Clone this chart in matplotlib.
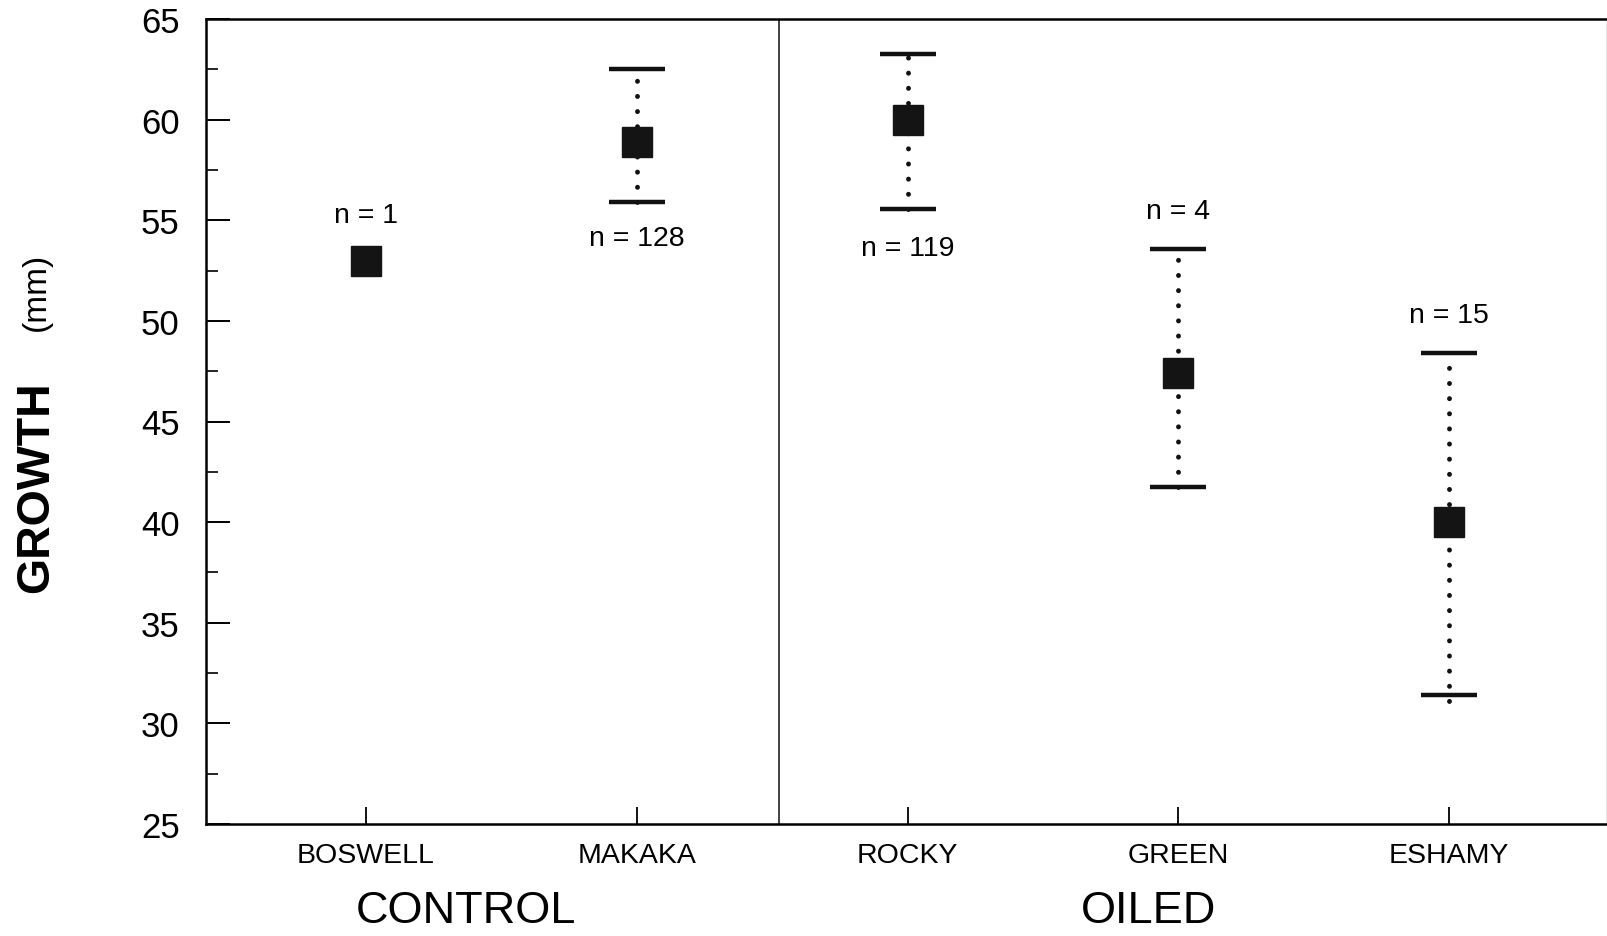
import matplotlib
matplotlib.use("Agg")
import matplotlib.pyplot as plt
from matplotlib.ticker import MultipleLocator
import matplotlib.transforms as mtransforms

plt.rcParams['font.family'] = ['Liberation Sans', 'DejaVu Sans']
plt.rcParams['lines.scale_dashes'] = False

# data
sites = ['BOSWELL', 'MAKAKA', 'ROCKY', 'GREEN', 'ESHAMY']
means = [53.0, 58.9, 60.0, 47.4, 40.0]
upper = [53.0, 62.5, 63.25, 53.55, 48.4]
lower = [53.0, 55.9, 55.55, 41.75, 31.4]
n_obs = [1, 128, 119, 4, 15]
n_label_y = [55.25, 54.1, 53.6, 55.45, 50.3]
groups = ['CONTROL', 'OILED']

x = list(range(1, len(sites) + 1))

fig = plt.figure(figsize=(16.08, 9.37), dpi=100)
ax = fig.add_axes([206 / 1608, 112 / 937, 1401 / 1608, 805 / 937])

# error bars (skip the single-observation site)
for xi, m, hi, lo, n in zip(x, means, upper, lower, n_obs):
    if n < 2:
        continue
    ax.vlines(xi, lo - 0.3 if xi == 5 else lo, hi, colors='#111111', linewidth=3.5,
              linestyles=(0, (0.1, 10.8)), capstyle='round', zorder=2)
    ax.plot([xi, xi], [lo, hi], linestyle='none', marker='_', markersize=40,
            markeredgewidth=3.2, color='#111111', zorder=3)

ax.plot(x, means, linestyle='none', marker='s', markersize=21.5,
        color='#141414', zorder=4)

for xi, yy, n in zip(x, n_label_y, n_obs):
    ax.text(xi, yy, 'n = %d' % n, ha='center', va='center', fontsize=20.5)

ax.axvline(2.525, color='#222222', linewidth=1.2)

ax.set_xlim(0.409, 5.583)
ax.set_ylim(25, 65)
ax.set_xticks(x)
ax.set_xticklabels(sites, fontsize=20.5)
ax.yaxis.set_major_locator(MultipleLocator(5))
ax.yaxis.set_minor_locator(MultipleLocator(2.5))
ax.tick_params(axis='y', which='major', direction='in', length=17, width=1.4,
               labelsize=25, pad=19)
ax.tick_params(axis='y', which='minor', direction='in', length=8.5, width=1.2)
ax.tick_params(axis='x', direction='in', length=12, width=1.3, labelsize=20.5, pad=13)

for side in ['left', 'bottom', 'top']:
    ax.spines[side].set_linewidth(1.8)
ax.spines['right'].set_linewidth(1.0)
ax.spines['right'].set_color('#888888')

# group labels under the site names
trans = mtransforms.blended_transform_factory(ax.transData, ax.transAxes)
ax.text(1.37, -0.107, groups[0], transform=trans, ha='center', va='center', fontsize=32.5)
ax.text(3.89, -0.107, groups[1], transform=trans, ha='center', va='center', fontsize=32.5)

# y axis label: bold GROWTH plus units
ax.text(-0.121, 0.42, 'GROWTH', transform=ax.transAxes, rotation=90, ha='center',
        va='center', fontsize=33.5, fontweight='bold')
ax.text(-0.121, 0.662, '(mm)', transform=ax.transAxes, rotation=90, ha='center',
        va='center', fontsize=24)

fig.savefig('out.png', dpi=100)
